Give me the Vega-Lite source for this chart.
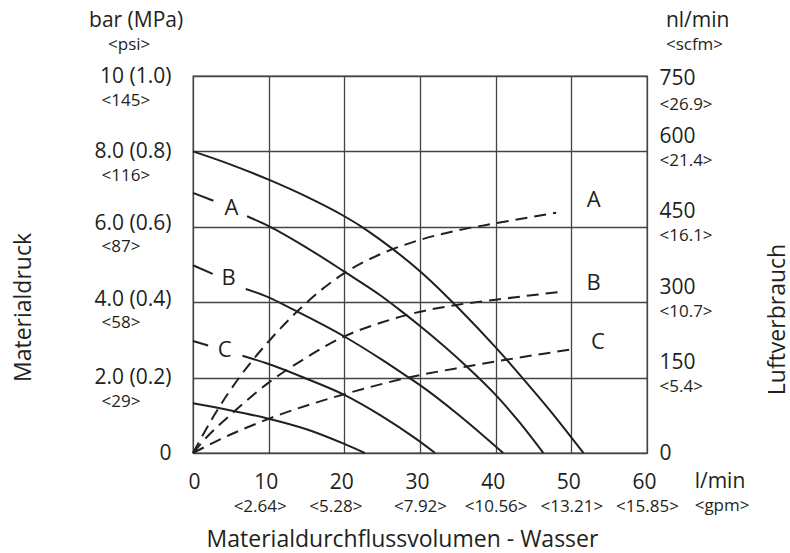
{
  "$schema": "https://vega.github.io/schema/vega-lite/v6.json",
  "width": 454,
  "height": 377,
  "autosize": {"type": "none"},
  "padding": {"left": 193, "top": 76, "right": 143, "bottom": 100},
  "background": "white",
  "config": {
    "font": "Open Sans",
    "view": {"stroke": "#444444", "strokeWidth": 1.3},
    "text": {"font": "Open Sans", "color": "#231f20"},
    "axis": {
      "labelFont": "Open Sans",
      "titleFont": "Open Sans",
      "labelColor": "#231f20",
      "titleColor": "#231f20",
      "titleFontWeight": "normal",
      "domain": false,
      "ticks": false,
      "tickSize": 0,
      "labelFlush": false,
      "labelOverlap": false,
      "gridColor": "#444444",
      "gridWidth": 1.3,
      "gridOpacity": 1
    }
  },
  "resolve": {"scale": {"y": "independent"}, "axis": {"x": "independent", "y": "independent"}},
  "layer": [
    {
      "data": {"values": [
        {"curve": "P1", "q": 0, "p": 8.0}, {"curve": "P1", "q": 5, "p": 7.65}, {"curve": "P1", "q": 10, "p": 7.25},
        {"curve": "P1", "q": 15, "p": 6.8}, {"curve": "P1", "q": 20, "p": 6.28}, {"curve": "P1", "q": 22.3, "p": 6.0},
        {"curve": "P1", "q": 25, "p": 5.62}, {"curve": "P1", "q": 30, "p": 4.82}, {"curve": "P1", "q": 33.3, "p": 4.2},
        {"curve": "P1", "q": 35.1, "p": 3.84}, {"curve": "P1", "q": 40, "p": 2.8}, {"curve": "P1", "q": 43.5, "p": 2.0},
        {"curve": "P1", "q": 47, "p": 1.17}, {"curve": "P1", "q": 51.6, "p": 0},
        {"curve": "A0", "q": 0, "p": 6.9}, {"curve": "A0", "q": 2.7, "p": 6.69},
        {"curve": "A", "q": 7.15, "p": 6.28}, {"curve": "A", "q": 10, "p": 6.02}, {"curve": "A", "q": 15, "p": 5.45},
        {"curve": "A", "q": 20, "p": 4.81}, {"curve": "A", "q": 24.7, "p": 4.19}, {"curve": "A", "q": 27.35, "p": 3.79},
        {"curve": "A", "q": 30, "p": 3.37}, {"curve": "A", "q": 36.2, "p": 2.29}, {"curve": "A", "q": 40, "p": 1.54},
        {"curve": "A", "q": 43, "p": 0.85}, {"curve": "A", "q": 46.3, "p": 0},
        {"curve": "B0", "q": 0, "p": 4.98}, {"curve": "B0", "q": 2.6, "p": 4.75},
        {"curve": "B", "q": 6.97, "p": 4.35}, {"curve": "B", "q": 10, "p": 4.13}, {"curve": "B", "q": 13.2, "p": 3.81},
        {"curve": "B", "q": 20, "p": 3.09}, {"curve": "B", "q": 25, "p": 2.47}, {"curve": "B", "q": 28.45, "p": 2.01},
        {"curve": "B", "q": 30, "p": 1.8}, {"curve": "B", "q": 35, "p": 1.03}, {"curve": "B", "q": 41, "p": 0},
        {"curve": "C0", "q": 0, "p": 2.97}, {"curve": "C0", "q": 2.0, "p": 2.85},
        {"curve": "C", "q": 6.53, "p": 2.58}, {"curve": "C", "q": 10, "p": 2.36}, {"curve": "C", "q": 15, "p": 1.97},
        {"curve": "C", "q": 20, "p": 1.54}, {"curve": "C", "q": 25, "p": 0.97}, {"curve": "C", "q": 29.3, "p": 0.4},
        {"curve": "C", "q": 32, "p": 0},
        {"curve": "P5", "q": 0, "p": 1.32}, {"curve": "P5", "q": 5, "p": 1.13}, {"curve": "P5", "q": 10, "p": 0.91},
        {"curve": "P5", "q": 15, "p": 0.63}, {"curve": "P5", "q": 20, "p": 0.24}, {"curve": "P5", "q": 22.7, "p": 0}
      ]},
      "mark": {"type": "line", "interpolate": "monotone", "strokeWidth": 2, "color": "#231f20"},
      "encoding": {
        "x": {
          "field": "q", "type": "quantitative",
          "scale": {"domain": [0, 60], "nice": false, "zero": false},
          "axis": {
            "orient": "bottom",
            "values": [0, 10, 20, 30, 40, 50, 60],
            "grid": true,
            "labelFontSize": 21,
            "labelPadding": 29,
            "labelBaseline": "middle",
            "labelOffset": {"condition": {"test": "datum.value == 0", "value": 1}, "value": -3},
            "title": "Materialdurchflussvolumen - Wasser",
            "titleFontSize": 23,
            "titleX": 209,
            "titleY": 86,
            "titleAlign": "center",
            "titleBaseline": "middle"
          }
        },
        "y": {
          "field": "p", "type": "quantitative",
          "scale": {"domain": [0, 10], "nice": false},
          "axis": {
            "orient": "left",
            "values": [0, 2, 4, 6, 8, 10],
            "grid": true,
            "labelExpr": "datum.value == 10 ? '10 (1.0)' : datum.value == 0 ? '0' : format(datum.value, '.1f') + ' (' + format(datum.value / 10, '.1f') + ')'",
            "labelAlign": "right",
            "labelBaseline": "middle",
            "labelPadding": 22,
            "labelFontSize": 21,
            "labelOffset": {"condition": {"test": "datum.value == 6 || datum.value == 4", "value": -3}, "value": 0},
            "title": "Materialdruck",
            "titleFontSize": 23,
            "titleAngle": 270,
            "titleX": -170,
            "titleY": 231,
            "titleAlign": "center",
            "titleBaseline": "middle"
          }
        },
        "detail": {"field": "curve", "type": "nominal"}
      }
    },
    {
      "data": {"values": [
        {"curve": "LA", "q": 0, "air": 0}, {"curve": "LA", "q": 3, "air": 80}, {"curve": "LA", "q": 6.2, "air": 152},
        {"curve": "LA", "q": 10, "air": 222}, {"curve": "LA", "q": 14, "air": 285}, {"curve": "LA", "q": 17, "air": 325},
        {"curve": "LA", "q": 20, "air": 358}, {"curve": "LA", "q": 25, "air": 397}, {"curve": "LA", "q": 30, "air": 424},
        {"curve": "LA", "q": 35, "air": 443}, {"curve": "LA", "q": 40, "air": 457}, {"curve": "LA", "q": 48, "air": 478},
        {"curve": "LB", "q": 0, "air": 0}, {"curve": "LB", "q": 1.3, "air": 23}, {"curve": "LB", "q": 5.7, "air": 86},
        {"curve": "LB", "q": 10, "air": 140}, {"curve": "LB", "q": 15, "air": 190}, {"curve": "LB", "q": 20, "air": 232},
        {"curve": "LB", "q": 25, "air": 260}, {"curve": "LB", "q": 30, "air": 281}, {"curve": "LB", "q": 35, "air": 295},
        {"curve": "LB", "q": 40, "air": 305}, {"curve": "LB", "q": 48.8, "air": 321},
        {"curve": "LC", "q": 0, "air": 0}, {"curve": "LC", "q": 4, "air": 30}, {"curve": "LC", "q": 10, "air": 68},
        {"curve": "LC", "q": 20, "air": 117}, {"curve": "LC", "q": 30, "air": 155}, {"curve": "LC", "q": 36.2, "air": 172},
        {"curve": "LC", "q": 40, "air": 182}, {"curve": "LC", "q": 50.4, "air": 207}
      ]},
      "mark": {"type": "line", "interpolate": "monotone", "strokeWidth": 2, "color": "#231f20", "strokeDash": [12, 7]},
      "encoding": {
        "x": {"field": "q", "type": "quantitative", "axis": null},
        "y": {
          "field": "air", "type": "quantitative",
          "scale": {"domain": [0, 750], "nice": false},
          "axis": {
            "orient": "right",
            "values": [0, 150, 300, 450, 600, 750],
            "grid": false,
            "labelAlign": "left",
            "labelBaseline": "middle",
            "labelPadding": 12,
            "labelFontSize": 21,
            "labelOffset": {"condition": [{"test": "datum.value == 750", "value": 2}, {"test": "datum.value == 0", "value": 0}], "value": -15},
            "title": "Luftverbrauch",
            "titleFontSize": 23,
            "titleAngle": 270,
            "titleX": 130,
            "titleY": 243,
            "titleAlign": "center",
            "titleBaseline": "middle"
          }
        },
        "detail": {"field": "curve", "type": "nominal"}
      }
    },
    {
      "data": {"values": [
        {"label": "A", "q": 5.07, "p": 6.49},
        {"label": "B", "q": 4.72, "p": 4.63},
        {"label": "C", "q": 4.19, "p": 2.73}
      ]},
      "mark": {"type": "text", "fontSize": 22, "align": "center", "baseline": "middle"},
      "encoding": {
        "x": {
          "field": "q", "type": "quantitative",
          "axis": {
            "orient": "bottom",
            "values": [10, 20, 30, 40, 50, 60],
            "grid": false,
            "labelExpr": "datum.value == 10 ? '<2.64>' : datum.value == 20 ? '<5.28>' : datum.value == 30 ? '<7.92>' : datum.value == 40 ? '<10.56>' : datum.value == 50 ? '<13.21>' : '<15.85>'",
            "labelFontSize": 17,
            "labelPadding": 53,
            "labelBaseline": "middle",
            "labelOffset": {"condition": {"test": "datum.value <= 20", "value": -9}, "value": 0},
            "title": null
          }
        },
        "y": {
          "field": "p", "type": "quantitative",
          "scale": {"domain": [0, 10], "nice": false},
          "axis": {
            "orient": "left",
            "values": [2, 4, 6, 8, 10],
            "grid": false,
            "labelExpr": "datum.value == 10 ? '<145>' : datum.value == 8 ? '<116>' : datum.value == 6 ? '<87>' : datum.value == 4 ? '<58>' : '<29>'",
            "labelAlign": "left",
            "labelBaseline": "middle",
            "labelPadding": 92,
            "labelFontSize": 17,
            "labelOffset": {"condition": {"test": "datum.value == 6 || datum.value == 4", "value": 20}, "value": 24},
            "title": null
          }
        },
        "text": {"field": "label", "type": "nominal"}
      }
    },
    {
      "data": {"values": [
        {"label": "A", "q": 52.95, "air": 503},
        {"label": "B", "q": 52.95, "air": 338},
        {"label": "C", "q": 53.5, "air": 220}
      ]},
      "mark": {"type": "text", "fontSize": 22, "align": "center", "baseline": "middle"},
      "encoding": {
        "x": {"field": "q", "type": "quantitative", "axis": null},
        "y": {
          "field": "air", "type": "quantitative",
          "scale": {"domain": [0, 750], "nice": false},
          "axis": {
            "orient": "right",
            "values": [150, 300, 450, 600, 750],
            "grid": false,
            "labelExpr": "datum.value == 750 ? '<26.9>' : datum.value == 600 ? '<21.4>' : datum.value == 450 ? '<16.1>' : datum.value == 300 ? '<10.7>' : '<5.4>'",
            "labelAlign": "left",
            "labelBaseline": "middle",
            "labelPadding": 12,
            "labelFontSize": 17,
            "labelOffset": {"condition": {"test": "datum.value == 750", "value": 28}, "value": 9},
            "title": null
          }
        },
        "text": {"field": "label", "type": "nominal"}
      }
    },
    {
      "data": {"values": [
        {"unit": "bar (MPa)", "q": -13.74, "p": 11.46},
        {"unit": "nl/min", "q": 62.5, "p": 11.46},
        {"unit": "l/min", "q": 66.3, "p": -0.77}
      ]},
      "mark": {"type": "text", "fontSize": 21, "align": "left", "baseline": "middle"},
      "encoding": {
        "x": {"field": "q", "type": "quantitative", "axis": null},
        "y": {"field": "p", "type": "quantitative", "scale": {"domain": [0, 10], "nice": false}, "axis": null},
        "text": {"field": "unit", "type": "nominal"}
      }
    },
    {
      "data": {"values": [
        {"unit": "<psi>", "q": -11.23, "p": 10.82},
        {"unit": "<scfm>", "q": 62.5, "p": 10.82},
        {"unit": "<gpm>", "q": 66.3, "p": -1.41}
      ]},
      "mark": {"type": "text", "fontSize": 17, "align": "left", "baseline": "middle"},
      "encoding": {
        "x": {"field": "q", "type": "quantitative", "axis": null},
        "y": {"field": "p", "type": "quantitative", "scale": {"domain": [0, 10], "nice": false}, "axis": null},
        "text": {"field": "unit", "type": "nominal"}
      }
    }
  ]
}
